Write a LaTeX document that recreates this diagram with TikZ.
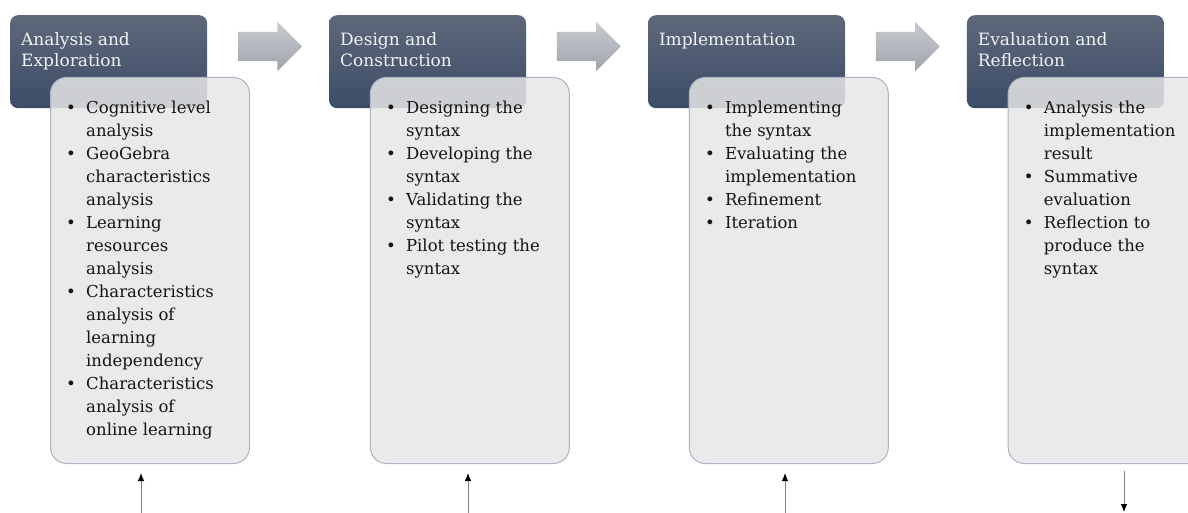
\documentclass[tikz,border=0pt]{standalone}
\usepackage{fontspec}
\setmainfont{DejaVu Serif}
\usepackage{xcolor}
\usepackage{tikz}
\usetikzlibrary{arrows.meta,shapes.arrows,positioning,calc}

\definecolor{hdrtop}{RGB}{94,104,122}
\definecolor{hdrbot}{RGB}{60,76,104}
\definecolor{hdrtext}{RGB}{242,242,242}
\definecolor{boxfill}{RGB}{230,230,230}
\definecolor{boxline}{RGB}{170,180,196}
\definecolor{boxtext}{RGB}{20,20,20}
\definecolor{arrtop}{RGB}{200,202,207}
\definecolor{arrbot}{RGB}{160,164,172}
\definecolor{linkgray}{RGB}{128,128,128}

\newcommand{\bul}{\makebox[20pt][l]{\textbullet}}
\newcommand{\ind}{\hspace*{20pt}}

\begin{document}
\begin{tikzpicture}[x=1pt,y=-1pt,node distance=121.5pt]
	\tikzset{phase/.style={rectangle,rounded corners=8pt,minimum width=197pt,minimum height=93pt,top color=hdrtop,bottom color=hdrbot,inner sep=0pt}}
	\tikzset{title/.style={anchor=north west,align=left,inner sep=0pt,text=hdrtext,font=\fontsize{17}{21}\selectfont}}
	\tikzset{tasks/.style={rectangle,rounded corners=16pt,minimum width=199pt,minimum height=386pt,anchor=north west,draw=boxline,line width=1pt,fill=boxfill,fill opacity=.85,inner sep=0pt}}
	\tikzset{items/.style={anchor=north west,align=left,inner sep=0pt,text=boxtext,font=\fontsize{16.5}{23}\selectfont}}
	\tikzset{flow/.style={single arrow,minimum height=64pt,minimum width=49pt,single arrow head extend=10pt,inner xsep=0pt,inner ysep=14.5pt,top color=arrtop,bottom color=arrbot}}
	\tikzset{link/.style={draw=linkgray,line width=0.9pt,-{Latex[length=8pt,width=6.5pt,color=black]}}}

	\clip (0,0) rectangle (1188,513);

	% phase headers
	\node[phase,anchor=north west](h1) at (10,15){};
	\node[phase](h2)[right=of h1]{};
	\node[phase](h3)[right=of h2]{};
	\node[phase](h4)[right=of h3]{};

	\node[title](t1) at ([shift={(11,17)}]h1.north west){Analysis and\\Exploration};
	\node[title](t2) at ([shift={(11,17)}]h2.north west){Design and\\Construction};
	\node[title](t3) at ([shift={(11,17)}]h3.north west){Implementation};
	\node[title](t4) at ([shift={(11,17)}]h4.north west){Evaluation and\\Reflection};

	% arrows between the phases
	\node[flow](a1) at ($(h1.north east)!.5!(h2.north west)+(-5.5,31.5)$){};
	\node[flow](a2) at ($(h2.north east)!.5!(h3.north west)+(-5.5,31.5)$){};
	\node[flow](a3) at ($(h3.north east)!.5!(h4.north west)+(-5.5,31.5)$){};

	% task boxes
	\node[tasks](s1) at ([shift={(40,62)}]h1.north west){};
	\node[tasks](s2) at ([shift={(41,62)}]h2.north west){};
	\node[tasks](s3) at ([shift={(41,62)}]h3.north west){};
	\node[tasks](s4) at ([shift={(41,62)}]h4.north west){};

	\node[items](l1) at ([shift={(16,24)}]s1.north west){\bul Cognitive level\\\ind analysis\\\bul GeoGebra\\\ind characteristics\\\ind analysis\\\bul Learning\\\ind resources\\\ind analysis\\\bul Characteristics\\\ind analysis of\\\ind learning\\\ind independency\\\bul Characteristics\\\ind analysis of\\\ind online learning};
	\node[items](l2) at ([shift={(16,24)}]s2.north west){\bul Designing the\\\ind syntax\\\bul Developing the\\\ind syntax\\\bul Validating the\\\ind syntax\\\bul Pilot testing the\\\ind syntax};
	\node[items](l3) at ([shift={(16,24)}]s3.north west){\bul Implementing\\\ind the syntax\\\bul Evaluating the\\\ind implementation\\\bul Refinement\\\bul Iteration};
	\node[items](l4) at ([shift={(16,24)}]s4.north west){\bul Analysis the\\\ind implementation\\\ind result\\\bul Summative\\\ind evaluation\\\bul Reflection to\\\ind produce the\\\ind syntax};

	% arrows below the boxes
	\coordinate (u1) at (141,513);
	\coordinate (u2) at (468,513);
	\coordinate (u3) at (785,513);
	\coordinate (d4) at (1124,512);
	\draw[link,shorten >=9pt] (u1) -- (u1 |- s1.south);
	\draw[link,shorten >=9pt] (u2) -- (u2 |- s2.south);
	\draw[link,shorten >=9pt] (u3) -- (u3 |- s3.south);
	\draw[link,shorten <=7pt] (d4 |- s4.south) -- (d4);
\end{tikzpicture}
\end{document}
